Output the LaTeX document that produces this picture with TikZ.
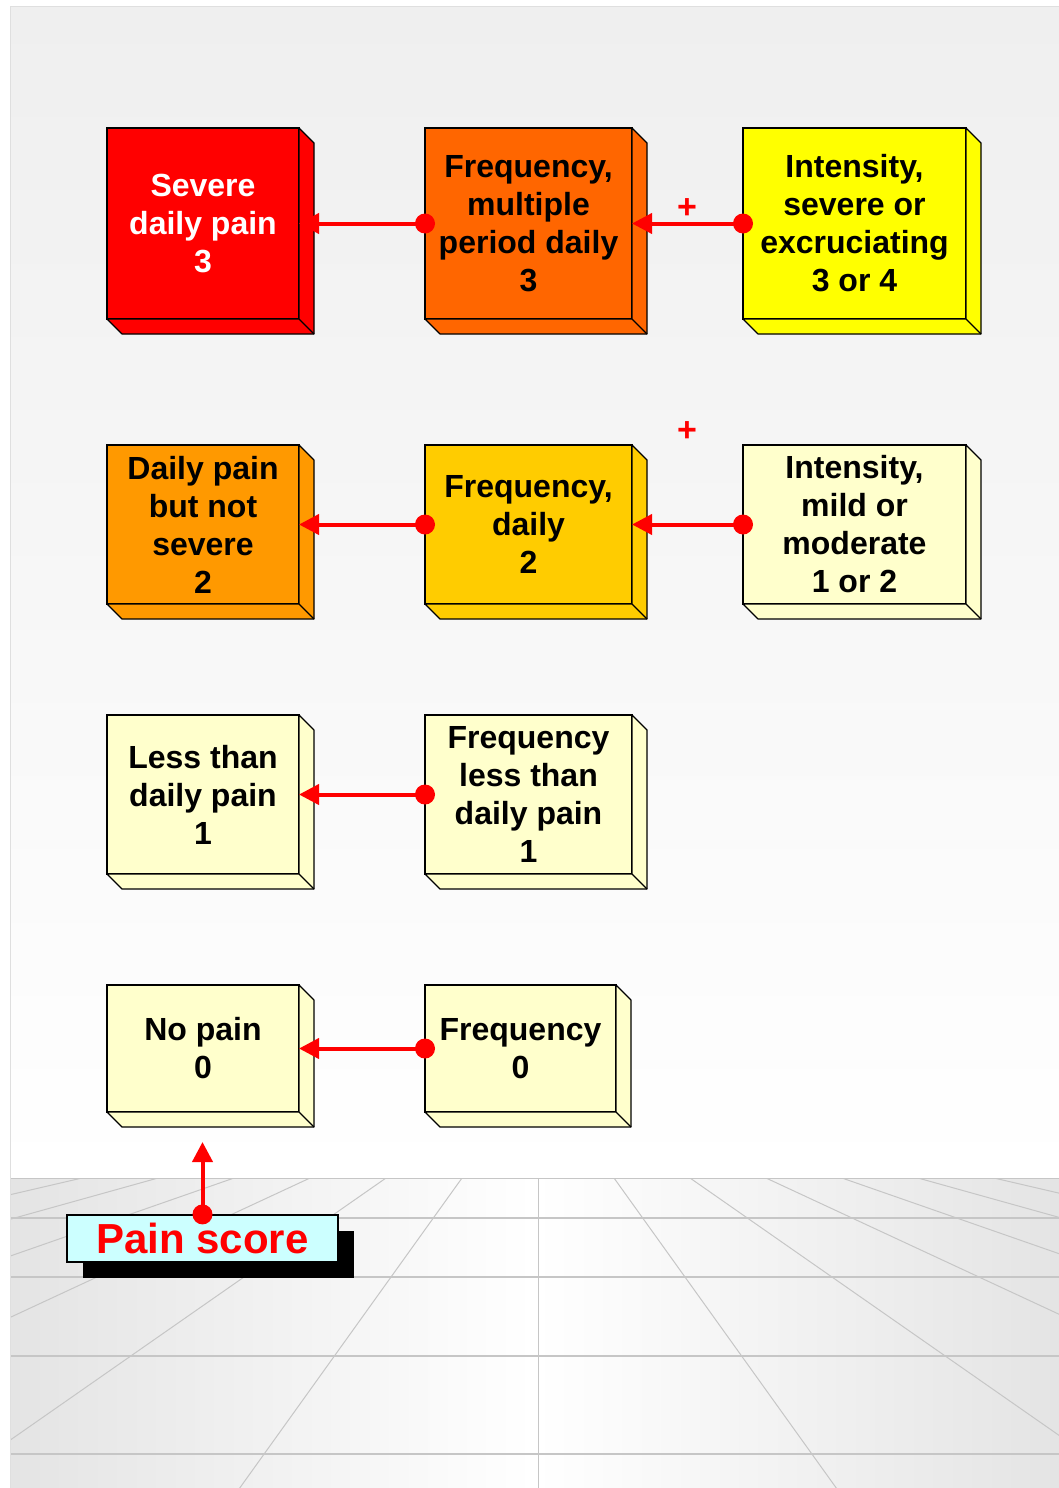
\documentclass[tikz,border=0pt]{standalone}
\usepackage{fontspec}
\setmainfont{Liberation Sans}
\usetikzlibrary{arrows.meta}

\definecolor{linkred}{HTML}{FF0000}
\definecolor{cRed}{HTML}{FF0000}
\definecolor{cOrangeDark}{HTML}{FF6600}
\definecolor{cOrange}{HTML}{FF9900}
\definecolor{cGold}{HTML}{FFCC00}
\definecolor{cYellow}{HTML}{FFFF00}
\definecolor{cPale}{HTML}{FFFFCC}
\definecolor{cCyan}{HTML}{CCFFFF}
\definecolor{gridline}{HTML}{C6C6C6}
\definecolor{floorside}{HTML}{E4E4E4}
\definecolor{skytop}{HTML}{EFEFEF}

\tikzset{
  block/.style={draw=black, line width=1.2pt, inner sep=0pt, outer sep=0pt,
    align=center, font=\bfseries\fontsize{32}{38}\selectfont},
  link/.style={draw=linkred, line width=4pt, -{Triangle[length=20pt,width=20pt]}},
  plussign/.style={text=linkred, inner sep=0pt, font=\bfseries\fontsize{34}{34}\selectfont},
}

% side and bottom faces of an extruded block
\newcommand\blockdepth[3][15]{%
  \filldraw[fill=#3, draw=black, line width=1.2pt, line join=round]
    (#2.north east) -- ++(#1,#1)
    -- ([shift={(#1,#1)}]#2.south east)
    -- ([shift={(#1,#1)}]#2.south west)
    -- (#2.south west) -- (#2.south east) -- cycle;
  \draw[line width=1.2pt] (#2.south east) -- ++(#1,#1);
}
\newcommand\linkdot[1]{\fill[linkred] (#1) circle (10);}

\begin{document}
\begin{tikzpicture}[x=1pt, y=-1pt]
\useasboundingbox (0,0) rectangle (1059,1488);

% backdrop wall and floor
\shade[top color=skytop, bottom color=white] (10,7) rectangle (1059,1178);
\shade[left color=floorside, right color=floorside, middle color=white] (10,1178) rectangle (1059,1488);
\begin{scope}
  \clip (10,1178) rectangle (1059,1488);
  \foreach \k in {-6,...,6}
    \draw[gridline, line width=1pt] ({538+76*\k},1178) -- ({538+76*\k*5},{1178+106*4});
  \foreach \yy in {1178,1218,1277,1356,1454}
    \draw[gridline, line width=2pt] (10,\yy) -- (1059,\yy);
\end{scope}
\draw[gray!25, line width=1pt] (10,1488) -- (10,7) -- (1059,7);

% row 1
\node[block, fill=cRed, text=white, minimum width=192, minimum height=191] (b11) at (203,223.5) {Severe\\daily pain\\3};
\blockdepth{b11}{cRed}
\node[block, fill=cOrangeDark, minimum width=207, minimum height=191] (b12) at (528.5,223.5) {Frequency,\\multiple\\period daily\\3};
\blockdepth{b12}{cOrangeDark}
\node[block, fill=cYellow, minimum width=223, minimum height=191] (b13) at (854.5,223.5) {Intensity,\\severe or\\excruciating\\3 or 4};
\blockdepth{b13}{cYellow}

% row 2
\node[block, fill=cOrange, minimum width=192, minimum height=159] (b21) at (203,524.5) {Daily pain\\but not\\severe\\2};
\blockdepth{b21}{cOrange}
\node[block, fill=cGold, minimum width=207, minimum height=159] (b22) at (528.5,524.5) {Frequency,\\daily\\2};
\blockdepth{b22}{cGold}
\node[block, fill=cPale, minimum width=223, minimum height=159] (b23) at (854.5,524.5) {Intensity,\\mild or\\moderate\\1 or 2};
\blockdepth{b23}{cPale}

% row 3
\node[block, fill=cPale, minimum width=192, minimum height=159] (b31) at (203,794.5) {Less than\\daily pain\\1};
\blockdepth{b31}{cPale}
\node[block, fill=cPale, minimum width=207, minimum height=159] (b32) at (528.5,794.5) {Frequency\\less than\\daily pain\\1};
\blockdepth{b32}{cPale}

% row 4
\node[block, fill=cPale, minimum width=192, minimum height=127] (b41) at (203,1048.5) {No pain\\0};
\blockdepth{b41}{cPale}
\node[block, fill=cPale, minimum width=191, minimum height=127] (b42) at (520.5,1048.5) {Frequency\\0};
\blockdepth{b42}{cPale}

% connectors
\draw[link] (b12.west) -- (b11.east); \linkdot{b12.west}
\draw[link] (b13.west) -- (b12.east); \linkdot{b13.west}
\draw[link] (b22.west) -- (b21.east); \linkdot{b22.west}
\draw[link] (b23.west) -- (b22.east); \linkdot{b23.west}
\draw[link] (b32.west) -- (b31.east); \linkdot{b32.west}
\draw[link] (b42.west) -- (b41.east); \linkdot{b42.west}

\node[plussign] (plus1) at (687,209) {+};
\node[plussign] (plus2) at (687,432) {+};

% pain score label with its shadow
\fill[black] (83,1231) rectangle (354,1278);
\node[draw=black, line width=1.2pt, fill=cCyan, inner sep=0pt, minimum width=271, minimum height=47,
      text=linkred, font=\bfseries\fontsize{42}{42}\selectfont] (ps) at (202.5,1238.5) {Pain score};
\coordinate (pstop) at (202.5,1142);
\draw[link] (ps.north) -- (pstop); \linkdot{ps.north}
\end{tikzpicture}
\end{document}
